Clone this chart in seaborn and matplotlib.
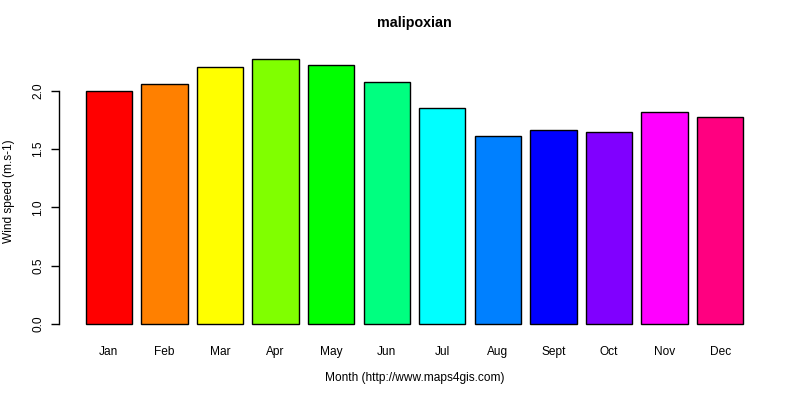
import matplotlib
matplotlib.use("Agg")
import matplotlib.pyplot as plt
import seaborn as sns
import pandas as pd

months = ["Jan", "Feb", "Mar", "Apr", "May", "Jun",
          "Jul", "Aug", "Sept", "Oct", "Nov", "Dec"]
wind_speed = [1.995, 2.055, 2.20, 2.27, 2.218, 2.072,
              1.849, 1.609, 1.66, 1.643, 1.815, 1.772]
bar_colors = ["#FF0000", "#FF8000", "#FFFF00", "#80FF00", "#00FF00", "#00FF80",
              "#00FFFF", "#0080FF", "#0000FF", "#8000FF", "#FF00FF", "#FF0080"]
y_ticks = [0.0, 0.5, 1.0, 1.5, 2.0]

sns.set_theme(style="white", rc={"text.color": "black", "axes.labelcolor": "black",
                                 "xtick.color": "black", "ytick.color": "black"})
plt.rcParams["font.family"] = ["Liberation Sans", "DejaVu Sans"]

df = pd.DataFrame({"month": months, "speed": wind_speed})

fig = plt.figure(figsize=(8, 4), dpi=100)
W, H = 800, 400
left, right, top, bottom = 59.4, 769.6, 48.7, 334.5
ax = fig.add_axes([left / W, 1 - bottom / H, (right - left) / W, (bottom - top) / H])

sns.barplot(data=df, x="month", y="speed", hue="month", palette=bar_colors,
            legend=False, width=1 / 1.2, edgecolor="black", linewidth=1.0,
            saturation=1, ax=ax)

ax.set_xlim(-0.89, 11.89)
ax.set_ylim(-0.091, 2.36)

for s in ["top", "right", "bottom"]:
    ax.spines[s].set_visible(False)
ax.spines["left"].set_bounds(0, 2.0)
ax.spines["left"].set_color("black")
ax.spines["left"].set_linewidth(1.0)

ax.set_yticks(y_ticks)
ax.set_yticklabels([f"{v:.1f}" for v in y_ticks], rotation=90, va="center")
ax.tick_params(axis="y", direction="out", length=5.5, width=1.0, color="black",
               pad=5.5, labelsize=8.6, left=True, labelcolor="black")
ax.tick_params(axis="x", length=0, pad=8, labelsize=8.6, labelcolor="black")
ax.grid(False)

ax_h = bottom - top
ax_w = right - left
ax.set_title("malipoxian", fontweight="bold", fontsize=10.3, color="black",
             y=1 + (top - 31.7) / ax_h, va="center")
ax.set_xlabel("Month (http://www.maps4gis.com)", fontsize=8.6, color="black")
ax.xaxis.set_label_coords(0.5, -(377.7 - bottom) / ax_h)
ax.xaxis.label.set_va("center")
ax.set_ylabel("Wind speed (m.s-1)", fontsize=8.6, color="black")
ax.yaxis.set_label_coords(-(left - 9.5) / ax_w, 0.5)
ax.yaxis.label.set_va("center")

fig.savefig("out.png", dpi=100)
